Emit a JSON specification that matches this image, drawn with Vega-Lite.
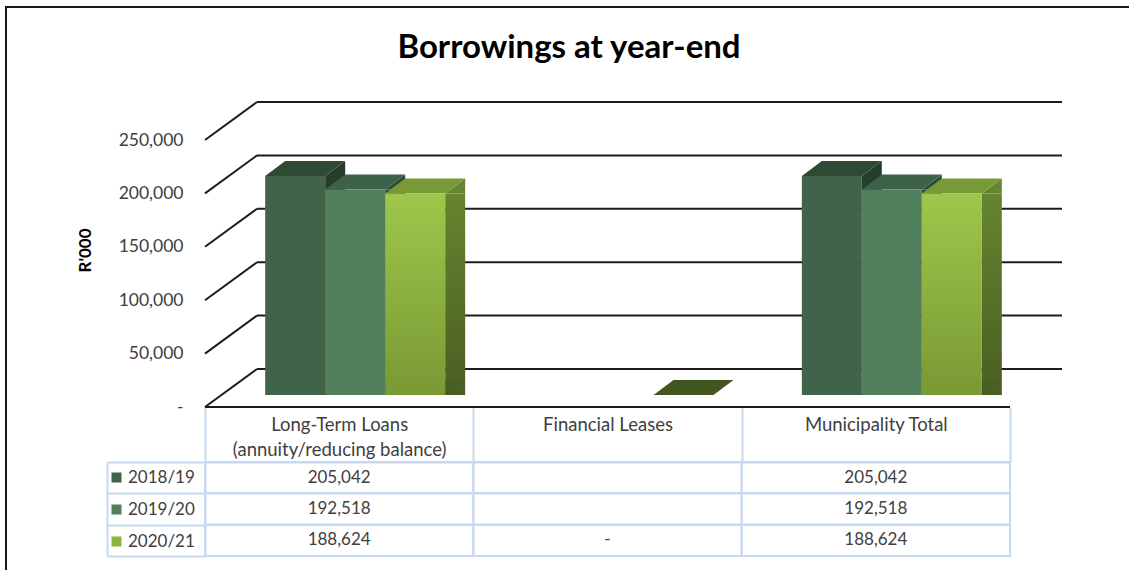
{
  "$schema": "https://vega.github.io/schema/vega-lite/v6.json",
  "width": 1126,
  "height": 566,
  "autosize": {"type": "none"},
  "padding": {"left": 6, "top": 7, "right": -3, "bottom": -3},
  "background": "white",
  "title": {
    "text": "Borrowings at year-end",
    "font": "Lato",
    "fontSize": 33,
    "fontWeight": "bold",
    "color": "#000000",
    "anchor": "middle",
    "frame": "group",
    "baseline": "alphabetic",
    "offset": -84
  },
  "config": {
    "view": {"stroke": "#101d12", "strokeWidth": 2},
    "font": "Lato",
    "axis": {"grid": false}
  },
  "datasets": {
    "borrowings": [
      {"category": "Long-Term Loans (annuity/reducing balance)", "year": "2018/19", "value": 205042},
      {"category": "Long-Term Loans (annuity/reducing balance)", "year": "2019/20", "value": 192518},
      {"category": "Long-Term Loans (annuity/reducing balance)", "year": "2020/21", "value": 188624},
      {"category": "Financial Leases", "year": "2018/19", "value": null},
      {"category": "Financial Leases", "year": "2019/20", "value": null},
      {"category": "Financial Leases", "year": "2020/21", "value": 0},
      {"category": "Municipality Total", "year": "2018/19", "value": 205042},
      {"category": "Municipality Total", "year": "2019/20", "value": 192518},
      {"category": "Municipality Total", "year": "2020/21", "value": 188624}
    ],
    "ticks": [
      {"tick": 0}, {"tick": 50000}, {"tick": 100000},
      {"tick": 150000}, {"tick": 200000}, {"tick": 250000}
    ]
  },
  "resolve": {"scale": {"y": "independent", "color": "independent", "xOffset": "independent"}},
  "layer": [
    {
      "data": {"name": "ticks"},
      "mark": {"type": "rule", "color": "#1c1c1c", "strokeWidth": 2, "xOffset": 52, "x2Offset": 52, "yOffset": -38},
      "encoding": {
        "x": {"datum": "Long-Term Loans (annuity/reducing balance)", "type": "nominal", "bandPosition": 0,
              "scale": {"domain": ["Long-Term Loans (annuity/reducing balance)", "Financial Leases", "Municipality Total"], "range": [199, 1004], "paddingInner": 0, "paddingOuter": 0}},
        "x2": {"datum": "Municipality Total", "bandPosition": 1},
        "y": {"field": "tick", "type": "quantitative",
              "scale": {"domain": [0, 250000], "range": [400, 133], "nice": false, "zero": false},
              "axis": {
                "orient": "left", "offset": -199, "values": [0, 50000, 100000, 150000, 200000, 250000],
                "labelExpr": "datum.value === 0 ? '-\u00a0\u00a0\u00a0\u00a0\u00a0\u00a0\u00a0' : format(datum.value, ',')",
                "domain": false, "ticks": false, "tickSize": 0, "labelPadding": 22,
                "labelFont": "Lato", "labelFontSize": 17.5, "labelColor": "#404040",
                "title": "R'000", "titleFont": "Lato", "titleFontSize": 17, "titleFontWeight": "bold", "titleColor": "#000000",
                "titleX": -111, "titleY": 243, "titleAngle": -90, "titleBaseline": "bottom", "titleAlign": "center"
              }}
      }
    },
    {
      "data": {"name": "ticks"},
      "mark": {"type": "rule", "color": "#1c1c1c", "strokeWidth": 2, "x2Offset": 52, "y2Offset": -38},
      "encoding": {
        "x": {"datum": "Long-Term Loans (annuity/reducing balance)", "type": "nominal", "bandPosition": 0},
        "x2": {"datum": "Long-Term Loans (annuity/reducing balance)", "bandPosition": 0},
        "y": {"field": "tick", "type": "quantitative", "scale": {"domain": [0, 250000], "range": [400, 133], "nice": false, "zero": false}, "axis": null},
        "y2": {"field": "tick"}
      }
    },
    {
      "data": {"name": "ticks"},
      "transform": [{"filter": "datum.tick === 0"}],
      "mark": {"type": "rule", "color": "#1c1c1c", "strokeWidth": 2},
      "encoding": {
        "x": {"datum": "Long-Term Loans (annuity/reducing balance)", "type": "nominal", "bandPosition": 0},
        "x2": {"datum": "Municipality Total", "bandPosition": 1},
        "y": {"field": "tick", "type": "quantitative", "scale": {"domain": [0, 250000], "range": [400, 133], "nice": false, "zero": false}, "axis": null}
      }
    },
    {
      "data": {"name": "borrowings"},
      "transform": [{"filter": "datum.value > 0"}],
      "mark": {"type": "bar", "width": 20, "yOffset": -12, "y2Offset": -27},
      "encoding": {
        "x": {"field": "category", "type": "nominal"},
        "xOffset": {"field": "year", "type": "nominal", "scale": {"type": "band", "range": [100.17, 280.17], "paddingInner": 0, "paddingOuter": 0}},
        "y": {"field": "value", "type": "quantitative", "scale": {"domain": [0, 250000], "range": [400, 133], "nice": false, "zero": false}, "axis": null},
        "color": {
          "condition": {"test": "datum.year === '2020/21'", "value": {"gradient": "linear", "x1": 0, "y1": 0, "x2": 0, "y2": 1, "stops": [{"offset": 0, "color": "#66852f"}, {"offset": 1, "color": "#4a5e22"}]}},
          "field": "year", "type": "nominal",
          "scale": {"domain": ["2018/19", "2019/20", "2020/21"], "range": ["#253d2a", "#2e4c37", "#5a7629"]},
          "legend": null
        }
      }
    },
    {
      "data": {"name": "borrowings"},
      "transform": [{"filter": "datum.value > 0"}],
      "mark": {"type": "point", "shape": "M0.75,0L1.25,-0.375L1.25,0Z", "size": 6400, "filled": true, "opacity": 1, "strokeWidth": 0, "yOffset": -12},
      "encoding": {
        "x": {"field": "category", "type": "nominal"},
        "xOffset": {"field": "year", "type": "nominal", "scale": {"type": "band", "range": [60.17, 240.17], "paddingInner": 0, "paddingOuter": 0}},
        "y": {"field": "value", "type": "quantitative", "scale": {"domain": [0, 250000], "range": [400, 133], "nice": false, "zero": false}, "axis": null},
        "color": {
          "field": "year", "type": "nominal",
          "scale": {"domain": ["2018/19", "2019/20", "2020/21"], "range": ["#253d2a", "#2e4c37", "#66852f"]},
          "legend": null
        }
      }
    },
    {
      "data": {"name": "borrowings"},
      "transform": [{"filter": "datum.value > 0"}],
      "mark": {"type": "point", "shape": "M0.75,-0.375L0.75,0L1.25,-0.375Z", "size": 6400, "filled": true, "opacity": 1, "strokeWidth": 0, "yOffset": -12},
      "encoding": {
        "x": {"field": "category", "type": "nominal"},
        "xOffset": {"field": "year", "type": "nominal", "scale": {"type": "band", "range": [60.17, 240.17], "paddingInner": 0, "paddingOuter": 0}},
        "y": {"datum": 0, "type": "quantitative", "scale": {"domain": [0, 250000], "range": [400, 133], "nice": false, "zero": false}, "axis": null},
        "color": {
          "field": "year", "type": "nominal",
          "scale": {"domain": ["2018/19", "2019/20", "2020/21"], "range": ["#223826", "#2a4632", "#4a5e22"]},
          "legend": null
        }
      }
    },
    {
      "data": {"name": "borrowings"},
      "transform": [{"filter": "isValid(datum.value)"}],
      "mark": {"type": "point", "shape": "M-0.75,0L0.75,0L1.25,-0.375L-0.25,-0.375Z", "size": 6400, "filled": true, "opacity": 1, "strokeWidth": 0, "yOffset": -12},
      "encoding": {
        "x": {"field": "category", "type": "nominal"},
        "xOffset": {"field": "year", "type": "nominal", "scale": {"type": "band", "range": [60.17, 240.17], "paddingInner": 0, "paddingOuter": 0}},
        "y": {"field": "value", "type": "quantitative", "scale": {"domain": [0, 250000], "range": [400, 133], "nice": false, "zero": false}, "axis": null},
        "color": {
          "condition": {"test": "datum.value === 0", "value": "#44561f"},
          "field": "year", "type": "nominal",
          "scale": {"domain": ["2018/19", "2019/20", "2020/21"], "range": ["#2f4a33", "#3d6149", "#779a36"]},
          "legend": null
        }
      }
    },
    {
      "data": {"name": "borrowings"},
      "transform": [{"filter": "isValid(datum.value)"}],
      "mark": {"type": "bar", "yOffset": -12, "y2Offset": -12},
      "encoding": {
        "x": {"field": "category", "type": "nominal"},
        "xOffset": {"field": "year", "type": "nominal", "scale": {"type": "band", "range": [60.17, 240.17], "paddingInner": 0, "paddingOuter": 0}},
        "y": {"field": "value", "type": "quantitative", "scale": {"domain": [0, 250000], "range": [400, 133], "nice": false, "zero": false}, "axis": null},
        "color": {
          "condition": {"test": "datum.year === '2020/21'", "value": {"gradient": "linear", "x1": 0, "y1": 0, "x2": 0, "y2": 1, "stops": [{"offset": 0, "color": "#9ec74b"}, {"offset": 1, "color": "#799934"}]}},
          "field": "year", "type": "nominal",
          "scale": {"domain": ["2018/19", "2019/20", "2020/21"], "range": ["#41634a", "#52805d", "#8db440"]},
          "legend": {
            "orient": "none", "legendX": 102, "legendY": 462, "title": null, "padding": 0,
            "symbolType": "square", "symbolSize": 100, "symbolStrokeWidth": 0, "symbolOpacity": 1,
            "labelFont": "Lato", "labelFontSize": 17, "labelColor": "#404040", "labelOffset": 3,
            "rowPadding": 14
          }
        }
      }
    },
    {
      "data": {"name": "borrowings"},
      "mark": {"type": "rect", "fill": null, "stroke": "#c6d9f0", "strokeWidth": 2},
      "encoding": {
        "x": {"field": "category", "type": "nominal",
              "axis": {
                "orient": "top", "offset": -455, "title": null,
                "domain": true, "domainColor": "#c6d9f0", "domainWidth": 2,
                "ticks": true, "tickBand": "extent", "tickSize": 55, "tickColor": "#c6d9f0", "tickWidth": 2,
                "labelAngle": 0, "labelBaseline": "top", "labelPadding": -8, "labelAlign": "center",
                "labelFont": "Lato", "labelFontSize": 18.5, "labelColor": "#404040", "labelLineHeight": 25,
                "labelLimit": 400, "labelOverlap": false,
                "labelExpr": "datum.label === 'Long-Term Loans (annuity/reducing balance)' ? ['Long-Term Loans', '(annuity/reducing balance)'] : datum.label"
              }},
        "y": {"field": "year", "type": "nominal",
              "scale": {"type": "band", "domain": ["2018/19", "2019/20", "2020/21"], "range": [455, 549], "paddingInner": 0, "paddingOuter": 0},
              "axis": {
                "orient": "left", "offset": -199, "title": null, "labels": false,
                "domain": true, "domainColor": "#c6d9f0", "domainWidth": 2,
                "ticks": true, "tickBand": "extent", "tickSize": 98, "tickColor": "#c6d9f0", "tickWidth": 2
              }}
      }
    },
    {
      "data": {"name": "borrowings"},
      "transform": [{"filter": "isValid(datum.value)"}],
      "mark": {"type": "text", "font": "Lato", "fontSize": 17, "color": "#404040", "baseline": "middle", "align": "center"},
      "encoding": {
        "x": {"field": "category", "type": "nominal"},
        "y": {"field": "year", "type": "nominal",
              "scale": {"type": "band", "domain": ["2018/19", "2019/20", "2020/21"], "range": [455, 549], "paddingInner": 0, "paddingOuter": 0},
              "axis": {
                "orient": "left", "offset": -101, "title": null, "labels": false, "ticks": false,
                "domain": true, "domainColor": "#c6d9f0", "domainWidth": 2
              }},
        "text": {"condition": {"test": "datum.value === 0", "value": "-"}, "field": "value", "type": "quantitative", "format": ","}
      }
    }
  ]
}
